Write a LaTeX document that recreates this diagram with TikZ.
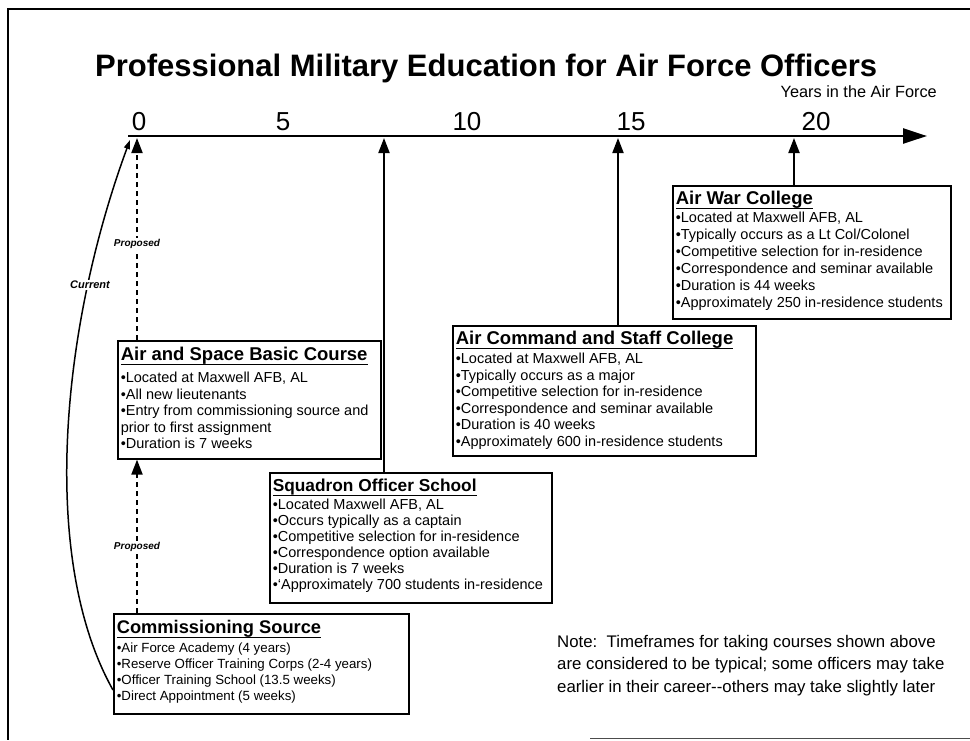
\documentclass[tikz,border=0pt]{standalone}
\usepackage{fontspec}
\setmainfont{Liberation Sans}
\usetikzlibrary{arrows.meta}

% heading of a course box, with a heavy underline
\newsavebox\headbox
\newcommand{\heading}[1]{\sbox\headbox{#1}\usebox\headbox\llap{\rule[-4.6pt]{\wd\headbox}{1.3pt}}}

% course box text
% #1 width, #2 height, #3 heading size, #4 heading, #5 baseline of heading,
% #6 gap below heading, #7 bullet size, #8 bullet leading, #9 bullet lines
\newcommand{\coursetext}[9]{%
  \parbox[c][#2][t]{#1}{\raggedright\lineskiplimit=-30pt
    \fontsize{#3}{#8}\selectfont\bfseries\rule{0pt}{#5}\heading{#4}\\[#6]%
    \fontsize{#7}{#8}\selectfont\mdseries #9}}

\tikzset{
  course/.style={draw, line width=1.6pt, fill=white, inner xsep=3pt, inner ysep=0pt, anchor=north west},
  rise/.style={-{Triangle[length=15pt,width=11pt]}, line width=2pt},
  proposed/.style={rise, dash pattern=on 5pt off 4pt},
  tag/.style={fill=white, inner sep=1.5pt, font=\fontsize{10}{12}\selectfont\bfseries\itshape},
  tick/.style={anchor=base, font=\fontsize{26}{30}\selectfont},
}

\begin{document}
\begin{tikzpicture}[x=1pt, y=-1pt]
\useasboundingbox (0,0) rectangle (970,740);

% frame
\draw[line width=1.6pt] (970,9) -- (8,9) -- (8,740);
\draw[line width=0.9pt, black!70] (590,738.5) -- (970,738.5);

% heading
\node[anchor=base west, inner sep=0pt, font=\fontsize{31}{36}\selectfont\bfseries] (title) at (95,76)
  {Professional Military Education for Air Force Officers};

% time axis
\coordinate (o) at (128,136);
\coordinate (axend) at (927,136);
\draw[line width=2.6pt, -{Triangle[length=24pt,width=15pt]}] (o) -- (axend);
\node[anchor=base east, inner sep=0pt, font=\fontsize{16.3}{19}\selectfont] (ylabel) at (937,97) {Years in the Air Force};
\node[tick] (n0)  at (139,130) {0};
\node[tick] (n5)  at (283,130) {5};
\node[tick] (n10) at (467,130) {10};
\node[tick] (n15) at (631,130) {15};
\node[tick] (n20) at (816,130) {20};

% points where the courses meet the axis
\coordinate (t0)  at (137,138);
\coordinate (t8)  at (384,138);
\coordinate (t14) at (618,138);
\coordinate (t19) at (794,138);
\coordinate (cur) at (130,140);

% course boxes
\node[course] (asbc) at (117,340) {\coursetext{257pt}{118pt}{18.5}{Air and Space Basic Course}{20pt}{5.5pt}{14.5}{16.5}{%
  •Located at Maxwell AFB, AL\\
  •All new lieutenants\\
  •Entry from commissioning source and\\
  prior to first assignment\\
  •Duration is 7 weeks}};

\node[course] (sos) at (269,472) {\coursetext{276pt}{130pt}{17.3}{Squadron Officer School}{19pt}{2pt}{14.5}{16}{%
  •Located Maxwell AFB, AL\\
  •Occurs typically as a captain\\
  •Competitive selection for in-residence\\
  •Correspondence option available\\
  •Duration is 7 weeks\\
  •‘Approximately 700 students in-residence}};

\node[course] (cs) at (113,613) {\coursetext{289pt}{100pt}{18.3}{Commissioning Source}{20pt}{3pt}{13.3}{16}{%
  •Air Force Academy (4 years)\\
  •Reserve Officer Training Corps (2-4 years)\\
  •Officer Training School (13.5 weeks)\\
  •Direct Appointment (5 weeks)}};

\node[course] (acsc) at (452,325) {\coursetext{297pt}{130pt}{18.5}{Air Command and Staff College}{19pt}{2.5pt}{14.5}{16.5}{%
  •Located at Maxwell AFB, AL\\
  •Typically occurs as a major\\
  •Competitive selection for in-residence\\
  •Correspondence and seminar available\\
  •Duration is 40 weeks\\
  •Approximately 600 in-residence students}};

\node[course] (awc) at (672,185) {\coursetext{272pt}{133pt}{18.5}{Air War College}{19pt}{1pt}{14.5}{17}{%
  •Located at Maxwell AFB, AL\\
  •Typically occurs as a Lt Col/Colonel\\
  •Competitive selection for in-residence\\
  •Correspondence and seminar available\\
  •Duration is 44 weeks\\
  •Approximately 250 in-residence students}};

% connectors to the axis
\draw[proposed] (asbc.north -| t0) -- (t0);
\draw[proposed] (cs.north -| t0) -- (asbc.south -| t0);
\draw[rise] (sos.north -| t8) -- (t8);
\draw[rise] (acsc.north -| t14) -- (t14);
\draw[rise] (awc.north -| t19) -- (t19);
\draw[line width=1.5pt, -{Triangle[length=9pt,width=6pt]}]
  ([yshift=-77pt]cs.north west) .. controls (40,560) and (60,330) .. (cur);

\node[tag] (p1) at (137,244) {Proposed};
\node[tag] (p2) at (137,547) {Proposed};
\node[tag, font=\fontsize{11}{13}\selectfont\bfseries\itshape] (curtag) at (90,285) {Current};

% note
\node[anchor=north west, inner sep=0pt, align=left, font=\fontsize{16.8}{22.5}\selectfont] (note) at (557,635)
  {Note:\ \ Timeframes for taking courses shown above\\
   are considered to be typical; some officers may take\\
   earlier in their career-{}-others may take slightly later};
\end{tikzpicture}
\end{document}
